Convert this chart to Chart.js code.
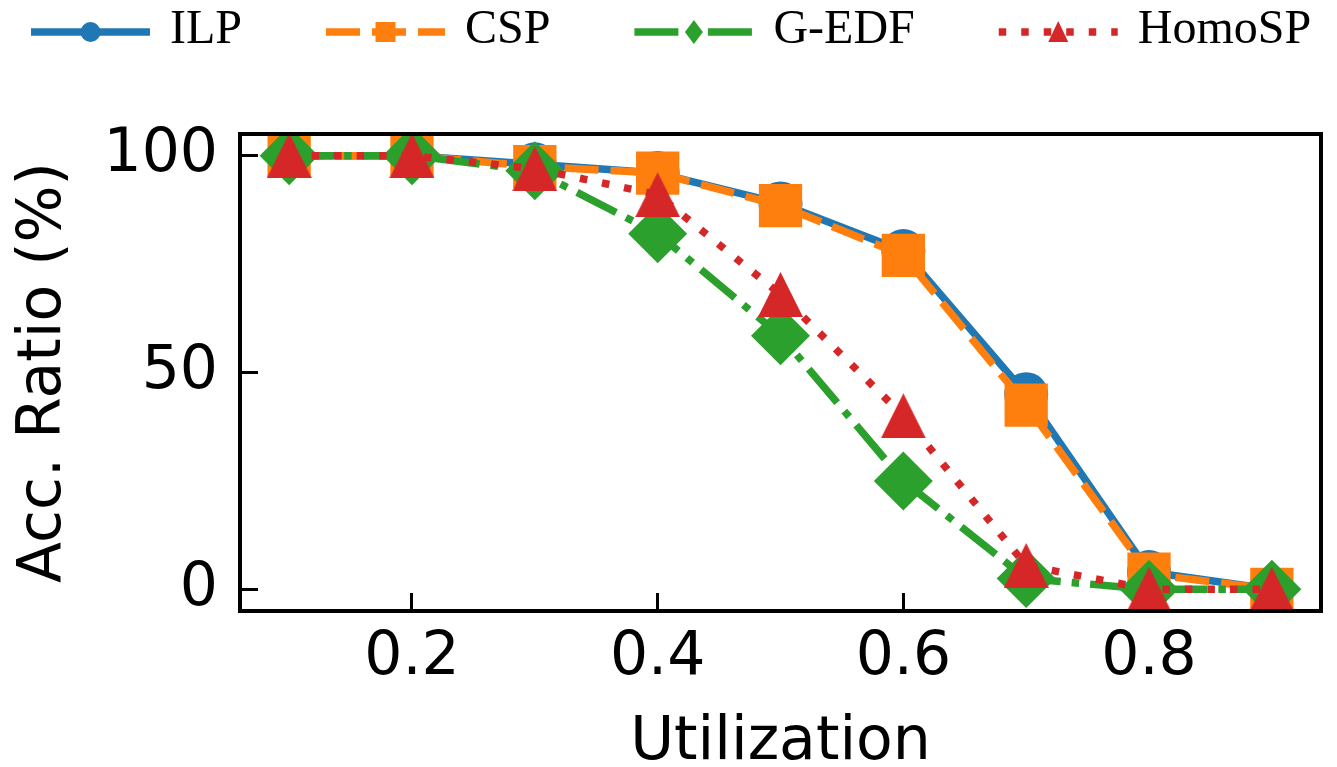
<!DOCTYPE html>
<html>
<head>
<meta charset="utf-8">
<script src="https://cdn.jsdelivr.net/npm/chart.js@4.4.1/dist/chart.umd.min.js"></script>
<style>
  html, body { margin: 0; padding: 0; background: #fff; }
</style>
</head>
<body>
<canvas id="chart" width="1337" height="767"></canvas>
<script>
// x values (utilization) and acceptance ratio in % for each method
var utilization = [0.1, 0.2, 0.3, 0.4, 0.5, 0.6, 0.7, 0.8, 0.9];
var ilp    = [100, 100, 98, 96, 89, 78, 45, 4, 0];
var csp    = [100, 100, 97.5, 96, 88.5, 77, 42.5, 3.5, 0];
var gedf   = [100, 100, 96.5, 82, 58.5, 25, 2.5, 0, 0];
var homosp = [100, 100, 97, 91, 68, 40, 5.5, 0, 0];

var xTicks = [0.2, 0.4, 0.6, 0.8];
var yTicks = [0, 50, 100];

var blue = '#1f77b4', orange = '#ff7f0e', green = '#2ca02c', red = '#d62728';
var LW = 7.5;
var DASHED = [34, 12], DASHDOT = [44, 11, 7.5, 11], DOTTED = [7.5, 15];

// matplotlib style '^' marker: same width and height, centred on mid height
function triangleMarker(size, color) {
    var c = document.createElement('canvas');
    c.width = size;
    c.height = size;
    var g = c.getContext('2d');
    g.fillStyle = color;
    g.beginPath();
    g.moveTo(size / 2, 0);
    g.lineTo(size, size);
    g.lineTo(0, size);
    g.closePath();
    g.fill();
    return c;
}

function series(label, values, color, dash, style, radius, order) {
    return {
        label: label,
        data: utilization.map(function (u, i) { return { x: u, y: values[i] }; }),
        borderColor: color,
        backgroundColor: color,
        borderWidth: LW,
        borderDash: dash,
        borderCapStyle: 'butt',
        borderJoinStyle: 'round',
        pointStyle: style,
        pointRadius: radius,
        pointHoverRadius: radius,
        pointBorderWidth: 0,
        pointBackgroundColor: color,
        tension: 0,
        fill: false,
        clip: 0,
        order: order
    };
}

// box around the plot, drawn over the lines like matplotlib spines
var frame = {
    id: 'frame',
    afterDatasetsDraw: function (chart) {
        var a = chart.chartArea, ctx = chart.ctx;
        ctx.save();
        ctx.lineWidth = 4;
        ctx.strokeStyle = '#000';
        ctx.strokeRect(a.left, a.top, a.right - a.left, a.bottom - a.top);
        ctx.restore();
    }
};

// legend with line + marker handles in one row at the top
var lineLegend = {
    id: 'lineLegend',
    afterDraw: function (chart) {
        var ctx = chart.ctx;
        var x = 31, y = 32, handle = 119, textGap = 20, colGap = 84;
        var markers = ['circle', 'rect', 'diamond', 'triangle'];
        ctx.save();
        ctx.font = '48px "Liberation Serif"';
        chart.data.datasets.forEach(function (ds, i) {
            ctx.save();
            ctx.strokeStyle = ds.borderColor;
            ctx.lineWidth = LW;
            ctx.lineCap = 'butt';
            ctx.setLineDash(ds.borderDash);
            ctx.beginPath();
            ctx.moveTo(x, y);
            ctx.lineTo(x + handle, y);
            ctx.stroke();
            ctx.setLineDash([]);
            ctx.fillStyle = ds.borderColor;
            var cx = x + handle / 2;
            ctx.beginPath();
            if (markers[i] === 'circle') {
                ctx.arc(cx, y, 10, 0, Math.PI * 2);
            } else if (markers[i] === 'rect') {
                ctx.rect(cx - 10, y - 10, 20, 20);
            } else if (markers[i] === 'diamond') {
                ctx.moveTo(cx, y - 12); ctx.lineTo(cx + 9, y); ctx.lineTo(cx, y + 12); ctx.lineTo(cx - 9, y);
            } else {
                ctx.moveTo(cx, y - 11); ctx.lineTo(cx + 10, y + 10); ctx.lineTo(cx - 10, y + 10);
            }
            ctx.closePath();
            ctx.fill();
            ctx.restore();
            ctx.fillStyle = '#000';
            ctx.textBaseline = 'alphabetic';
            ctx.fillText(ds.label, x + handle + textGap, 43);
            x += handle + textGap + ctx.measureText(ds.label).width + colGap;
        });
        ctx.restore();
    }
};

var tickFont = { family: 'DejaVu Sans', size: 60, lineHeight: 1 };

new Chart(document.getElementById('chart'), {
    type: 'line',
    data: {
        datasets: [
            series('ILP', ilp, blue, [], 'circle', 22, 4),
            series('CSP', csp, orange, DASHED, 'rect', 30.6, 3),
            series('G-EDF', gedf, green, DASHDOT, 'rectRot', 29.5, 2),
            series('HomoSP', homosp, red, DOTTED, triangleMarker(45, red), 22, 1)
        ]
    },
    options: {
        responsive: false,
        animation: false,
        devicePixelRatio: 1,
        layout: { autoPadding: false, padding: { top: 134, right: 16, left: 0, bottom: 0 } },
        plugins: {
            legend: { display: false },
            tooltip: { enabled: false }
        },
        scales: {
            x: {
                type: 'linear',
                min: 0.06,
                max: 0.94,
                afterBuildTicks: function (axis) {
                    axis.ticks = xTicks.map(function (v) { return { value: v }; });
                },
                afterFit: function (axis) { axis.height = 156; },
                grid: { drawOnChartArea: false, drawTicks: true, tickLength: -18, tickWidth: 3, tickColor: '#000' },
                border: { display: false },
                ticks: {
                    color: '#000',
                    font: tickFont,
                    padding: 35,
                    maxRotation: 0,
                    autoSkip: false,
                    callback: function (v) { return v.toFixed(1); }
                },
                title: {
                    display: true,
                    text: 'Utilization',
                    color: '#000',
                    font: tickFont,
                    padding: { top: 0, bottom: -6 }
                }
            },
            y: {
                min: -5,
                max: 105,
                afterBuildTicks: function (axis) {
                    axis.ticks = yTicks.map(function (v) { return { value: v }; });
                },
                afterFit: function (axis) { axis.width = 240; },
                grid: { drawOnChartArea: false, drawTicks: true, tickLength: -18, tickWidth: 3, tickColor: '#000' },
                border: { display: false },
                ticks: {
                    color: '#000',
                    font: tickFont,
                    padding: 40,
                    autoSkip: false
                },
                title: {
                    display: true,
                    text: 'Acc. Ratio (%)',
                    color: '#000',
                    font: tickFont,
                    padding: { top: 14, bottom: 0 }
                }
            }
        }
    },
    plugins: [frame, lineLegend]
});
</script>
</body>
</html>
